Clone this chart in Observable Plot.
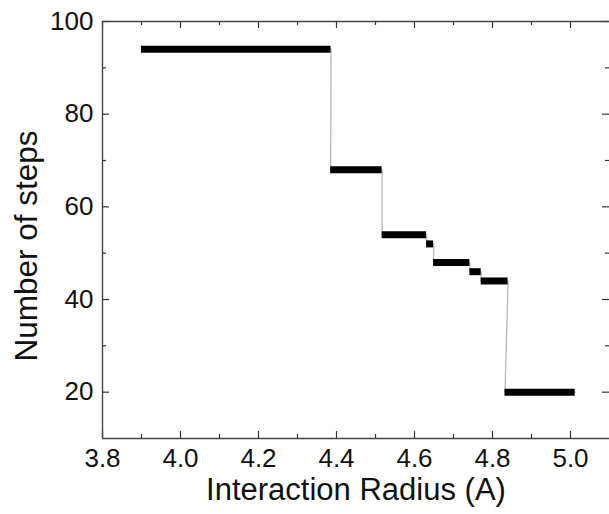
<!DOCTYPE html>
<html><head><meta charset="utf-8">
<script src="https://cdn.jsdelivr.net/npm/d3@7"></script>
<script src="https://cdn.jsdelivr.net/npm/@observablehq/plot@0.6"></script>
<style>body{margin:0;background:#fff}</style>
</head><body><div id="chart"></div>
<script>
const radiusStart = [3.900, 4.385, 4.517, 4.631, 4.649, 4.742, 4.771, 4.832];
const radiusEnd   = [4.386, 4.517, 4.631, 4.649, 4.742, 4.771, 4.840, 5.012];
const steps       = [94, 68, 54, 52, 48, 46, 44, 20];
const xDomain = [3.8, 5.1];
const yDomain = [10, 100];
const xMajorTicks = [3.8, 4.0, 4.2, 4.4, 4.6, 4.8, 5.0];
const xMinorTicks = [3.9, 4.1, 4.3, 4.5, 4.7, 4.9];
const yMajorTicks = [20, 40, 60, 80, 100];
const yMinorTicks = [30, 50, 70, 90];
const xLabel = "Interaction Radius (A)";
const yLabel = "Number of steps";

const segments = steps.map((v, i) => ({x1: radiusStart[i], x2: radiusEnd[i], y: v}));
const path = segments.flatMap(s => [{x: s.x1, y: s.y}, {x: s.x2, y: s.y}]);

const W = 609, H = 514, mL = 102, mR = 0, mT = 21, mB = 76;
const fw = W - mL - mR, fh = H - mT - mB;
const major = 7, minor = 4;
const font = "'Liberation Sans', Arial, sans-serif";
const tickColor = "#333";
const t = {stroke: tickColor, strokeWidth: 1.2};

const chart = Plot.plot({
  width: W,
  height: H,
  marginLeft: mL,
  marginRight: mR,
  marginTop: mT,
  marginBottom: mB,
  x: {domain: xDomain, axis: null},
  y: {domain: yDomain, axis: null},
  style: {fontFamily: font, background: "#fff", color: "#111"},
  marks: [
    Plot.line(path, {x: "x", y: "y", stroke: "#bdbdbd", strokeWidth: 1.4}),
    Plot.ruleY(segments, {x1: "x1", x2: "x2", y: "y", stroke: "#000", strokeWidth: 7}),
    // inward ticks: bottom, top, left, right
    Plot.ruleX(xMajorTicks, {x: d => d, insetTop: fh - major, ...t}),
    Plot.ruleX(xMinorTicks, {x: d => d, insetTop: fh - minor, ...t}),
    Plot.ruleX(xMajorTicks, {x: d => d, insetBottom: fh - major, ...t}),
    Plot.ruleX(xMinorTicks, {x: d => d, insetBottom: fh - minor, ...t}),
    Plot.ruleY(yMajorTicks, {y: d => d, insetRight: fw - major, ...t}),
    Plot.ruleY(yMinorTicks, {y: d => d, insetRight: fw - minor, ...t}),
    Plot.ruleY(yMajorTicks, {y: d => d, insetLeft: fw - major, ...t}),
    Plot.ruleY(yMinorTicks, {y: d => d, insetLeft: fw - minor, ...t}),
    // tick labels
    Plot.axisX({anchor: "bottom", ticks: xMajorTicks, tickSize: 0, tickPadding: 10, tickFormat: d3.format(".1f"), fontSize: 26, label: null}),
    Plot.axisY({anchor: "left", ticks: yMajorTicks, tickSize: 0, tickPadding: 9, tickFormat: d3.format("d"), fontSize: 26, label: null}),
    // frame (left, bottom, top)
    Plot.ruleX([xDomain[0]], {stroke: "#444", strokeWidth: 1.4}),
    Plot.ruleY([yDomain[0]], {stroke: "#444", strokeWidth: 1.4}),
    Plot.ruleY([yDomain[1]], {stroke: "#444", strokeWidth: 1.4}),
    // axis titles
    Plot.text([xLabel], {text: d => d, frameAnchor: "bottom", textAnchor: "middle", dy: 52, fontSize: 31, lineAnchor: "middle", fill: "#111"}),
    Plot.text([yLabel], {text: d => d, frameAnchor: "left", textAnchor: "middle", dx: -76, dy: 16, rotate: -90, fontSize: 31.5, lineAnchor: "middle", fill: "#111"})
  ]
});
document.getElementById("chart").appendChild(chart);
</script>
</body></html>
